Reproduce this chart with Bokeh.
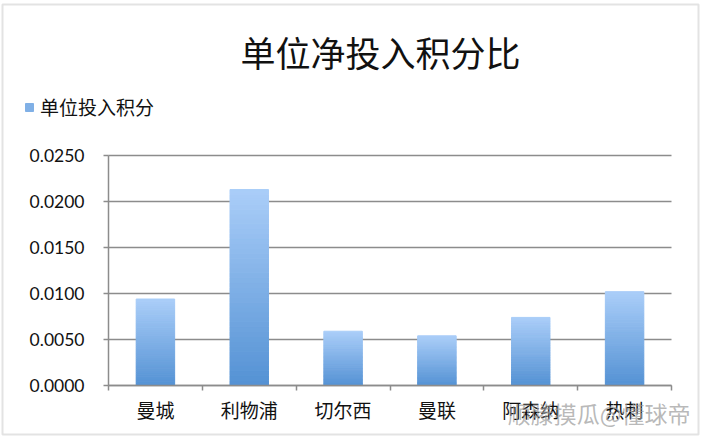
from bokeh.plotting import figure
from bokeh.models import (ColumnDataSource, Range1d, FixedTicker, NumeralTickFormatter,
                          Label, Legend, LegendItem, BoxAnnotation)
from bokeh.embed import file_html
from bokeh.resources import INLINE

# ---- data ----
teams = ["曼城", "利物浦", "切尔西", "曼联", "阿森纳", "热刺"]
values = [0.0094, 0.0213, 0.0059, 0.0054, 0.0074, 0.0102]
y_ticks = [0.0, 0.005, 0.010, 0.015, 0.020, 0.025]
title_text = "单位净投入积分比"
series_name = "单位投入积分"
watermark = "顺滕摸瓜@懂球帝"

# ---- layout (pixels) ----
CJK = "Noto Sans CJK SC"
W, H = 700, 436
AL, AR, AT, AB = 108, 671, 155, 385     # axes box in picture pixels
n = len(teams)
ymax = y_ticks[-1]
pxx = (AR - AL) / n                      # pixels per category
pxy = (AB - AT) / ymax                   # pixels per value unit
x_range = Range1d(0.5 - AL / pxx, n + 0.5 + (W - AR) / pxx)
y_range = Range1d(-(H - AB) / pxy, ymax + AT / pxy)

p = figure(width=W, height=H, output_backend="svg", toolbar_location=None,
           x_range=x_range, y_range=y_range,
           min_border_left=0, min_border_right=0, min_border_top=0, min_border_bottom=0)
p.outline_line_color = None
p.background_fill_color = "white"
p.border_fill_color = "white"

gcol = "#8c8c8c"
# horizontal grid lines at the y ticks, limited to the axes box
p.segment(x0=[0.5] * len(y_ticks), x1=[n + 0.5] * len(y_ticks), y0=y_ticks, y1=y_ticks,
          line_color=gcol, line_width=1.5)

# gradient bars built from stacked slices of each value
top_c = (0xA9, 0xCD, 0xF8)
bot_c = (0x55, 0x92, 0xD4)
N = 40
xs, bs, ts, cs = [], [], [], []
for i, v in enumerate(values):
    for k in range(N):
        f = k / (N - 1)
        col = tuple(round(bot_c[j] + (top_c[j] - bot_c[j]) * f) for j in range(3))
        xs.append(i + 1)
        bs.append(v * k / N)
        ts.append(v * (k + 1) / N)
        cs.append("#%02x%02x%02x" % col)
src = ColumnDataSource(dict(x=xs, bottom=bs, top=ts, color=cs))
bars = p.vbar(x="x", bottom="bottom", top="top", width=0.41, source=src,
              fill_color="color", line_color="color", line_width=1)

# legend (swatch shows a mid-gradient slice of the bars)
legend = Legend(items=[LegendItem(label=series_name, renderers=[bars], index=N // 2)],
                location=(24, H - 120), orientation="horizontal",
                padding=0, margin=0, spacing=0, glyph_width=10, glyph_height=10,
                label_standoff=6, label_height=20,
                label_text_font=CJK, label_text_font_size="19px", label_text_color="#111111",
                border_line_alpha=0, background_fill_alpha=0)
p.add_layout(legend, "center")

# axes, placed at fixed data locations inside the frame
xa = p.xaxis[0]
xa.fixed_location = 0
xa.bounds = (0.5, n + 0.5)
xa.ticker = FixedTicker(ticks=list(range(1, n + 1)),
                        minor_ticks=[i + 0.5 for i in range(n + 1)])
xa.major_label_overrides = {i + 1: t for i, t in enumerate(teams)}
xa.major_tick_out = 0
xa.major_tick_in = 0
xa.minor_tick_out = 5
xa.minor_tick_in = 0
xa.minor_tick_line_color = gcol
xa.minor_tick_line_width = 1.5
xa.axis_line_color = gcol
xa.axis_line_width = 1.5
xa.major_label_text_font = CJK
xa.major_label_text_font_size = "19px"
xa.major_label_text_color = "#111111"
xa.major_label_standoff = 5

ya = p.yaxis[0]
ya.fixed_location = 0.5
ya.bounds = (0, ymax)
ya.ticker = FixedTicker(ticks=y_ticks)
ya.formatter = NumeralTickFormatter(format="0.0000")
ya.major_tick_out = 5
ya.major_tick_in = 0
ya.minor_tick_line_color = None
ya.major_tick_line_color = gcol
ya.major_tick_line_width = 1.5
ya.axis_line_color = gcol
ya.axis_line_width = 1.5
ya.major_label_text_font = "Lato"
ya.major_label_text_font_size = "17.5px"
ya.major_label_text_color = "#111111"
ya.major_label_standoff = 19

p.xgrid.visible = False
p.ygrid.visible = False

# title and watermark
p.add_layout(Label(x=380, y=H - 51, x_units="screen", y_units="screen", text=title_text,
                   text_font=CJK, text_font_size="35px", text_color="#111111",
                   text_align="center", text_baseline="middle"))
p.add_layout(Label(x=690, y=H - 412, x_units="screen", y_units="screen", text=watermark,
                   text_font=CJK, text_font_size="23px", text_color="#9a9a9a", text_alpha=0.7,
                   text_align="right", text_baseline="middle"))
# chart border
p.add_layout(BoxAnnotation(left=2, right=698, top=H - 4, bottom=H - 434,
                           left_units="screen", right_units="screen",
                           top_units="screen", bottom_units="screen",
                           fill_alpha=0, line_color="#a3a3a3", line_width=2))

open("out.html", "w").write(file_html(p, INLINE))
